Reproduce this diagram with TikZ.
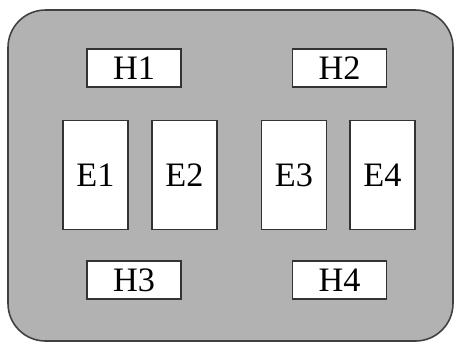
\documentclass[tikz,border=0pt]{standalone}
\usepackage{fontspec}
\setmainfont{Liberation Serif}
\usepackage{tikz}
\usetikzlibrary{positioning}

\begin{document}
\begin{tikzpicture}[x=0.02cm, y=-0.02cm,
  font=\fontsize{19.5}{20}\selectfont,
  frame/.style={draw=black!75, line width=0.9pt, fill=black!30, rounded corners=0.75cm},
  hbox/.style={draw=black!80, fill=white, line width=0.8pt, inner sep=0pt, minimum width=1.88cm, minimum height=0.76cm},
  ebox/.style={draw=black!80, fill=white, line width=0.8pt, inner sep=0pt, minimum width=1.3cm, minimum height=2.18cm}]
  \useasboundingbox (0,0) rectangle (454,343);
  \draw[frame] (8,10) rectangle (453,341);
  % heads
  \node[hbox] (h1) at (134,68)    {H1};
  \node[hbox] (h2) at (339.5,68)  {H2};
  \node[hbox] (h3) at (134,280)   {H3};
  \node[hbox] (h4) at (339.5,280) {H4};
  % elements
  \node[ebox] (e1) at (95.5,175)  {E1};
  \node[ebox] (e2) at (184.5,175) {E2};
  \node[ebox] (e3) at (294,175)   {E3};
  \node[ebox] (e4) at (382.5,175) {E4};
\end{tikzpicture}
\end{document}
